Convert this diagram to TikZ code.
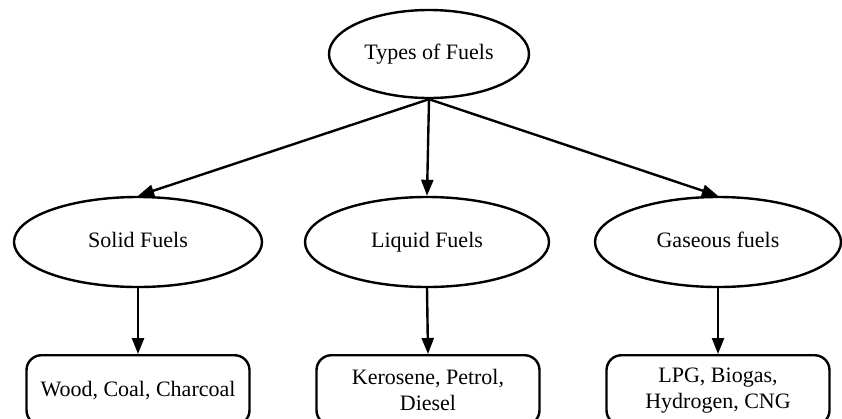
\documentclass[tikz,border=0pt]{standalone}
\usepackage{fontspec}
\setmainfont{Liberation Serif}
\usetikzlibrary{shapes.geometric,arrows.meta}
\begin{document}
\begin{tikzpicture}[x=1pt,y=-1pt,
  every node/.style={font=\fontsize{22}{26}\selectfont},
  oval/.style={ellipse,draw=black,line width=2.4pt,inner sep=0pt,fill=white,text height=15pt,text depth=5pt},
  leafbox/.style={draw=black,line width=2.4pt,rounded corners=15pt,minimum width=223pt,minimum height=70pt,anchor=north,align=center,inner sep=0pt},
  conn/.style={line width=2.4pt,-{Triangle[length=16pt,width=12pt]}}]
\useasboundingbox (0,0) rectangle (842,418);
\clip (0,0) rectangle (842,418);
\fill[white] (0,0) rectangle (842,418);
\node[oval,minimum width=200pt,minimum height=88pt] (top) at (429,54) {Types of Fuels};
\node[oval,minimum width=248pt,minimum height=90pt] (solid) at (138,242) {Solid Fuels};
\node[oval,minimum width=244pt,minimum height=90pt] (liquid) at (427,242) {Liquid Fuels};
\node[oval,minimum width=246pt,minimum height=90pt] (gas) at (718,242) {Gaseous fuels};
\node[leafbox] (b1) at (138,354) {Wood, Coal, Charcoal};
\node[leafbox] (b2) at (428,354) {Kerosene, Petrol,\\Diesel};
\node[leafbox] (b3) at (718,354) {LPG, Biogas,\\Hydrogen, CNG};
\draw[conn] (top.south) -- (solid.north);
\draw[conn] (top.south) -- (liquid.north);
\draw[conn] (top.south) -- (gas.north);
\draw[conn] (solid.south) -- (b1.north);
\draw[conn] (liquid.south) -- (b2.north);
\draw[conn] (gas.south) -- (b3.north);
\end{tikzpicture}
\end{document}
